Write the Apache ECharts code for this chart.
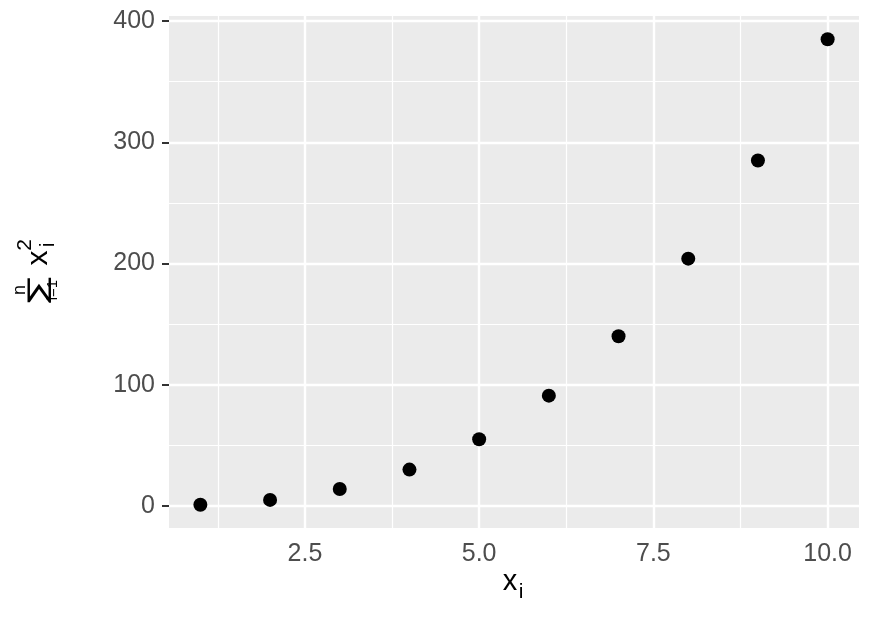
<!DOCTYPE html>
<html>
<head>
<meta charset="utf-8">
<script src="https://cdn.jsdelivr.net/npm/echarts@6/dist/echarts.min.js"></script>
<style>
  html, body { margin: 0; padding: 0; background: #fff; }
  #chart { width: 874px; height: 620px; }
</style>
</head>
<body>
<div id="chart"></div>
<script>
// data
var xValues = [1, 2, 3, 4, 5, 6, 7, 8, 9, 10]
var yValues = [1, 5, 14, 30, 55, 91, 140, 204, 285, 385]
var xTicks = [2.5, 5, 7.5, 10]
var xMinor = [1.25, 3.75, 6.25, 8.75]
var yTicks = [0, 100, 200, 300, 400]
var yMinor = [50, 150, 250, 350]

var labelFont = 'Liberation Sans'

// ggplot-like expansion of 5%
var xMin = 0.55, xMax = 10.45
var yMin = -18.2, yMax = 404.2

var gridLines = []
xMinor.forEach(function (v) { gridLines.push({ xAxis: v, lineStyle: { width: 1.2 } }) })
yMinor.forEach(function (v) { gridLines.push({ yAxis: v, lineStyle: { width: 1.2 } }) })
xTicks.forEach(function (v) { gridLines.push({ xAxis: v, lineStyle: { width: 2.4 } }) })
yTicks.forEach(function (v) { gridLines.push({ yAxis: v, lineStyle: { width: 2.4 } }) })

var myChart = echarts.init(document.getElementById('chart'))

// rotated y title: sum_{i=1}^{n} x_i^2
var cx = 36, cy = 275
function t(x, y, text, font, sx) {
  return { type: 'text', x: x, y: y, scaleX: sx || 1, style: { text: text, font: font, fill: '#000', align: 'center', verticalAlign: 'middle' } }
}
var option = {
  animation: false,
  backgroundColor: '#ffffff',
  grid: {
    left: 169,
    right: 15,
    top: 16,
    bottom: 92,
    show: true,
    backgroundColor: '#EBEBEB',
    borderWidth: 0
  },
  xAxis: {
    type: 'value',
    min: xMin,
    max: xMax,
    axisLine: { show: false },
    splitLine: { show: false },
    axisTick: {
      show: true,
      length: 7,
      customValues: xTicks,
      lineStyle: { color: '#333333', width: 2 }
    },
    axisLabel: {
      customValues: xTicks,
      margin: 14,
      color: '#4D4D4D',
      fontSize: 25,
      fontFamily: labelFont,
      formatter: function (v) { return v.toFixed(1) }
    }
  },
  yAxis: {
    type: 'value',
    min: yMin,
    max: yMax,
    axisLine: { show: false },
    splitLine: { show: false },
    axisTick: {
      show: true,
      length: 7,
      customValues: yTicks,
      lineStyle: { color: '#333333', width: 2 }
    },
    axisLabel: {
      customValues: yTicks,
      margin: 14,
      color: '#4D4D4D',
      fontSize: 25,
      fontFamily: labelFont
    }
  },
  graphic: [
    {
      type: 'group',
      x: 0, y: 0,
      children: [
        { type: 'text', x: 510, y: 596, style: { text: 'x', font: '29px Liberation Sans', fill: '#000', align: 'center', verticalAlign: 'bottom' } },
        { type: 'text', x: 521, y: 603, style: { text: 'i', font: '21px Liberation Sans', fill: '#000', align: 'center', verticalAlign: 'bottom' } }
      ]
    },
    {
      type: 'group',
      x: cx, y: cy,
      rotation: Math.PI / 2,
      children: [
        t(-15, 3, '\u2211', '26px DejaVu Sans', 1.5),
        t(-15, -16, 'n', '18px Liberation Sans'),
        t(-15, 17, 'i=1', '15px Liberation Sans'),
        t(17, 3, 'x', '30px Liberation Sans'),
        t(30, -11, '2', '21px Liberation Sans'),
        t(30, 12, 'i', '21px Liberation Sans')
      ]
    }
  ],
  series: [
    {
      type: 'scatter',
      data: [],
      z: 1,
      markLine: {
        z: 1,
        silent: true,
        symbol: 'none',
        animation: false,
        label: { show: false },
        lineStyle: { color: '#ffffff', type: 'solid', width: 2.4 },
        emphasis: { disabled: true },
        data: gridLines
      }
    },
    {
      type: 'scatter',
      z: 10,
      symbolSize: 14,
      itemStyle: { color: '#000000', opacity: 1 },
      data: xValues.map(function (x, i) { return [x, yValues[i]] })
    }
  ]
}
myChart.setOption(option)
</script>
</body>
</html>
